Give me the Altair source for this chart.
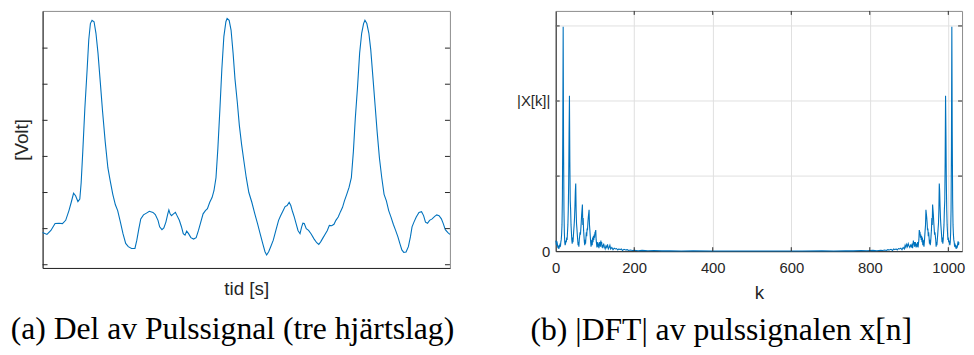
import altair as alt
import pandas as pd

# ---------------- (a) pulse signal, three heart beats ----------------
t_s = [0.000, 0.032, 0.061, 0.092, 0.121, 0.146, 0.170, 0.194, 0.211, 0.228, 0.243, 0.260, 0.274, 0.284,
       0.296, 0.311, 0.328, 0.340, 0.352, 0.364, 0.379, 0.393, 0.408, 0.425, 0.442, 0.461, 0.481, 0.498,
       0.517, 0.536, 0.553, 0.573, 0.592, 0.612, 0.631, 0.655, 0.680, 0.694, 0.709, 0.723, 0.743, 0.765,
       0.786, 0.813, 0.830, 0.850, 0.862, 0.879, 0.893, 0.908, 0.922, 0.930, 0.939, 0.949, 0.964, 0.978,
       0.990, 1.007, 1.022, 1.036, 1.049, 1.061, 1.075, 1.092, 1.112, 1.131, 1.148, 1.165, 1.182, 1.199,
       1.214, 1.231, 1.248, 1.262, 1.277, 1.291, 1.306, 1.320, 1.335, 1.350, 1.359, 1.374, 1.388, 1.403,
       1.417, 1.434, 1.449, 1.466, 1.483, 1.500, 1.519, 1.541, 1.563, 1.583, 1.602, 1.621, 1.638, 1.650,
       1.665, 1.680, 1.699, 1.718, 1.738, 1.752, 1.772, 1.786, 1.801, 1.816, 1.828, 1.840, 1.854, 1.867,
       1.881, 1.896, 1.908, 1.917, 1.927, 1.942, 1.959, 1.978, 2.000, 2.019, 2.034, 2.049, 2.066, 2.083,
       2.097, 2.112, 2.129, 2.146, 2.160, 2.177, 2.194, 2.209, 2.223, 2.240, 2.257, 2.274, 2.289, 2.303,
       2.320, 2.335, 2.350, 2.364, 2.374, 2.388, 2.403, 2.417, 2.432, 2.449, 2.464, 2.481, 2.498, 2.515,
       2.532, 2.549, 2.566, 2.583, 2.600, 2.617, 2.631, 2.646, 2.660, 2.677, 2.694, 2.709, 2.721, 2.735,
       2.752, 2.772, 2.791, 2.806, 2.820, 2.835, 2.850, 2.869, 2.888, 2.903, 2.920, 2.937, 2.951, 2.966,
       2.985, 3.000]
volt = [0.89, 0.84, 0.95, 1.14, 1.15, 1.14, 1.23, 1.50, 1.73, 1.98, 1.91, 1.75, 1.82, 2.27,
        3.14, 4.32, 5.41, 6.23, 6.68, 6.77, 6.73, 6.41, 5.86, 5.05, 4.23, 3.41, 2.68, 2.32,
        1.95, 1.66, 1.50, 1.18, 0.86, 0.59, 0.50, 0.45, 0.45, 0.68, 1.00, 1.27, 1.38, 1.43,
        1.48, 1.45, 1.39, 1.23, 1.05, 0.97, 1.02, 1.18, 1.41, 1.52, 1.41, 1.36, 1.41, 1.45,
        1.36, 1.23, 1.06, 0.86, 0.82, 0.93, 0.86, 0.75, 0.71, 0.75, 0.95, 1.18, 1.41, 1.50,
        1.55, 1.73, 1.86, 2.05, 2.41, 3.23, 4.32, 5.41, 6.32, 6.73, 6.82, 6.77, 6.50, 5.86,
        5.14, 4.50, 3.86, 3.32, 2.86, 2.41, 2.00, 1.73, 1.41, 1.14, 0.86, 0.59, 0.36, 0.27,
        0.36, 0.50, 0.68, 0.95, 1.23, 1.35, 1.50, 1.61, 1.64, 1.73, 1.64, 1.48, 1.32, 1.14,
        0.95, 0.86, 1.05, 1.15, 1.14, 1.00, 0.95, 0.85, 0.71, 0.61, 0.56, 0.64, 0.75, 0.86,
        0.95, 1.09, 1.08, 1.12, 1.23, 1.32, 1.47, 1.59, 1.77, 1.95, 2.14, 2.41, 3.14, 4.05,
        4.95, 5.86, 6.41, 6.68, 6.77, 6.68, 6.41, 5.95, 5.23, 4.41, 3.68, 2.95, 2.41, 1.95,
        1.77, 1.50, 1.32, 1.12, 0.95, 0.77, 0.59, 0.41, 0.34, 0.35, 0.50, 0.77, 1.05, 1.18,
        1.32, 1.45, 1.47, 1.36, 1.18, 1.15, 1.23, 1.27, 1.34, 1.38, 1.36, 1.27, 1.14, 0.97,
        0.89, 0.84]
volt_ticks = [0, 1, 2, 3, 4, 5, 6]

# ---------------- (b) |DFT| of the pulse signal ----------------
k_lo = [0, 1, 2, 3, 4, 5, 6, 7, 8, 9, 10, 11, 12, 13, 14, 15, 16, 17, 18, 19, 20, 21, 22, 23, 24, 25,
        26, 27, 28, 29, 30, 31, 32, 33, 34, 35, 36, 37, 38, 39, 40, 41, 42, 43, 44, 45, 46, 47, 48, 49,
        50, 51, 52, 53, 54, 55, 56, 57, 58, 59, 60, 61, 62, 63, 64, 65, 66, 67, 68, 69, 70, 71, 72, 73,
        74, 75, 76, 77, 78, 79, 80, 81, 82, 83, 84, 85, 86, 87, 88, 89, 90, 91, 92, 93, 94, 95, 96, 97,
        98, 99, 100, 101, 102, 103, 104, 105, 106, 107, 108, 109, 110, 111, 112, 113, 114, 115, 116,
        117, 118, 119, 120, 122, 124, 126, 128, 130, 132, 134, 136, 138, 140, 143, 146, 149, 152, 155,
        158, 161, 164, 167, 170, 174, 178, 182, 186, 190, 195, 200, 210, 220, 235, 250, 270, 290, 320,
        350, 400, 450, 514]
mag_lo = [0.14, 0.12, 0.08, 0.13, 0.10, 0.06, 0.04, 0.07, 0.03, 0.08, 0.05, 0.10, 0.06, 0.12, 0.15,
          0.22, 0.35, 0.70, 1.60, 2.99, 1.40, 0.55, 0.25, 0.12, 0.08, 0.10, 0.14, 0.12, 0.18, 0.15,
          0.25, 0.35, 0.55, 0.90, 1.55, 2.07, 1.20, 0.67, 0.55, 0.35, 0.25, 0.15, 0.10, 0.18, 0.12,
          0.20, 0.28, 0.35, 0.45, 0.60, 0.80, 0.90, 0.55, 0.37, 0.30, 0.22, 0.15, 0.08, 0.12, 0.06,
          0.15, 0.20, 0.25, 0.22, 0.30, 0.38, 0.48, 0.55, 0.62, 0.35, 0.44, 0.28, 0.20, 0.12, 0.08,
          0.15, 0.10, 0.18, 0.25, 0.20, 0.30, 0.28, 0.38, 0.45, 0.50, 0.55, 0.35, 0.28, 0.20, 0.12,
          0.06, 0.10, 0.15, 0.08, 0.18, 0.12, 0.20, 0.15, 0.22, 0.18, 0.25, 0.26, 0.28, 0.15, 0.10,
          0.05, 0.08, 0.12, 0.06, 0.10, 0.04, 0.08, 0.12, 0.10, 0.06, 0.14, 0.09, 0.12, 0.05, 0.08,
          0.04, 0.10, 0.06, 0.03, 0.07, 0.05, 0.09, 0.03, 0.05, 0.08, 0.03, 0.05, 0.02, 0.04, 0.03,
          0.035, 0.015, 0.03, 0.02, 0.03, 0.01, 0.025, 0.015, 0.02, 0.01, 0.015, 0.008, 0.012, 0.006,
          0.01, 0.005, 0.008, 0.004, 0.006, 0.003, 0.004, 0.002, 0.003, 0.002]
k_hi = [578, 628, 678, 708, 738, 758, 778, 793, 808, 818, 828, 833, 838, 842, 846, 850, 854, 858, 861,
        864, 867, 870, 873, 876, 879, 882, 885, 888, 890, 892, 894, 896, 898, 900, 902, 904, 906, 908,
        909, 910, 911, 912, 913, 914, 915, 916, 917, 918, 919, 920, 921, 922, 923, 924, 925, 926, 927,
        928, 929, 930, 931, 932, 933, 934, 935, 936, 937, 938, 939, 940, 941, 942, 943, 944, 945, 946,
        947, 948, 949, 950, 951, 952, 953, 954, 955, 956, 957, 958, 959, 960, 961, 962, 963, 964, 965,
        966, 967, 968, 969, 970, 971, 972, 973, 974, 975, 976, 977, 978, 979, 980, 981, 982, 983, 984,
        985, 986, 987, 988, 989, 990, 991, 992, 993, 994, 995, 996, 997, 998, 999, 1000, 1001, 1002,
        1003, 1004, 1005, 1006, 1007, 1008, 1009, 1010, 1011, 1012, 1013, 1014, 1015, 1016, 1017, 1018,
        1019, 1020, 1021, 1022, 1023, 1024, 1025, 1026, 1027]
mag_hi = [0.003, 0.002, 0.004, 0.003, 0.006, 0.004, 0.008, 0.005, 0.01, 0.006, 0.012, 0.008, 0.015,
          0.01, 0.02, 0.015, 0.025, 0.01, 0.03, 0.02, 0.03, 0.015, 0.035, 0.03, 0.04, 0.02, 0.05, 0.03,
          0.08, 0.05, 0.09, 0.06, 0.10, 0.07, 0.05, 0.08, 0.06, 0.10, 0.04, 0.08, 0.14, 0.09, 0.12, 0.06,
          0.10, 0.12, 0.08, 0.05, 0.10, 0.06, 0.08, 0.12, 0.05, 0.10, 0.15, 0.28, 0.26, 0.25, 0.18, 0.22,
          0.15, 0.20, 0.12, 0.18, 0.08, 0.15, 0.10, 0.06, 0.12, 0.20, 0.28, 0.35, 0.55, 0.50, 0.45, 0.38,
          0.28, 0.30, 0.20, 0.25, 0.18, 0.10, 0.15, 0.08, 0.12, 0.20, 0.28, 0.44, 0.35, 0.62, 0.55, 0.48,
          0.38, 0.30, 0.22, 0.25, 0.20, 0.15, 0.06, 0.12, 0.08, 0.15, 0.22, 0.30, 0.37, 0.55, 0.90, 0.80,
          0.60, 0.45, 0.35, 0.28, 0.20, 0.12, 0.18, 0.10, 0.15, 0.25, 0.35, 0.55, 0.67, 1.20, 2.07, 1.55,
          0.90, 0.55, 0.35, 0.25, 0.15, 0.18, 0.12, 0.14, 0.10, 0.08, 0.12, 0.25, 0.55, 1.40, 2.99, 1.60,
          0.70, 0.35, 0.22, 0.15, 0.12, 0.06, 0.10, 0.05, 0.08, 0.03, 0.07, 0.04, 0.06, 0.10, 0.13, 0.08,
          0.12]
k_ticks = [0, 200, 400, 600, 800, 1000]
mag_grid = [1, 2, 3]
mag_labels = [0, 2]

caption_a = "(a) Del av Pulssignal (tre hjärtslag)"
caption_b = "(b) |DFT| av pulssignalen x[n]"

BLUE = "#0072BD"
DARK = "#262626"
GRID = "#e0e0e0"

WL, HL = 412, 260
WR, HR = 411, 243

# ---------- left panel ----------
sig = pd.DataFrame({"t": t_s, "v": volt})
vt = pd.DataFrame({"v": volt_ticks})

xL = alt.X("t:Q", scale=alt.Scale(domain=[0, 3.0], nice=False, zero=False),
           axis=alt.Axis(title="tid [s]", labels=False, ticks=False, tickSize=0, grid=False,
                         titlePadding=12))
yL = alt.Y("v:Q", scale=alt.Scale(domain=[-0.09, 7.03], nice=False, zero=False),
           axis=alt.Axis(title="[Volt]", labels=False, ticks=False, tickSize=0, grid=False,
                         titlePadding=11))

sig_line = alt.Chart(sig).mark_line(color=BLUE, strokeWidth=1.1).encode(x=xL, y=yL)
tick_l = alt.Chart(vt).mark_rule(color=DARK, strokeWidth=1).encode(
    y=alt.Y("v:Q"), x=alt.value(0), x2=alt.value(5))
tick_r = alt.Chart(vt).mark_rule(color=DARK, strokeWidth=1).encode(
    y=alt.Y("v:Q"), x=alt.value(WL - 5), x2=alt.value(WL))

left = alt.layer(sig_line, tick_l, tick_r).properties(
    width=WL, height=HL,
    title=alt.TitleParams(text=caption_a, orient="bottom", anchor="middle",
                          font="Liberation Serif", fontSize=32, fontWeight="normal",
                          color="black", offset=16, dx=-14))

# ---------- right panel ----------
spec = pd.DataFrame({"k": k_lo + k_hi, "mag": mag_lo + mag_hi})
gy = pd.DataFrame({"mag": mag_grid})
kt = pd.DataFrame({"k": k_ticks[1:]})

xR = alt.X("k:Q", scale=alt.Scale(domain=[0, 1035], nice=False, zero=False),
           axis=alt.Axis(title="k", values=k_ticks, grid=True, gridColor=GRID, gridWidth=1,
                         ticks=False, tickSize=0, labelPadding=10, titlePadding=8,
                         labelFlush=False, format="d"))
yR = alt.Y("mag:Q", scale=alt.Scale(domain=[0, 3.2], nice=False, zero=False),
           axis=alt.Axis(title=None, values=mag_labels,
                         labelExpr="datum.value == 0 ? '0' : '|X[k]|'",
                         grid=False, ticks=False, tickSize=0, labelPadding=6))

spec_line = alt.Chart(spec).mark_line(color=BLUE, strokeWidth=1.1).encode(x=xR, y=yR)
grid_y = alt.Chart(gy).mark_rule(color=GRID, strokeWidth=1).encode(y=alt.Y("mag:Q"))
ytick_l = alt.Chart(gy).mark_rule(color=DARK).encode(
    y=alt.Y("mag:Q"), x=alt.value(0), x2=alt.value(4))
ytick_r = alt.Chart(gy).mark_rule(color=DARK).encode(
    y=alt.Y("mag:Q"), x=alt.value(WR - 4), x2=alt.value(WR))
xtick_b = alt.Chart(kt).mark_rule(color=DARK).encode(
    x=alt.X("k:Q"), y=alt.value(HR - 4), y2=alt.value(HR))
xtick_t = alt.Chart(kt).mark_rule(color=DARK).encode(
    x=alt.X("k:Q"), y=alt.value(0), y2=alt.value(4))

right = alt.layer(grid_y, spec_line, ytick_l, ytick_r, xtick_b, xtick_t).properties(
    width=WR, height=HR,
    title=alt.TitleParams(text=caption_b, orient="bottom", anchor="middle",
                          font="Liberation Serif", fontSize=32, fontWeight="normal",
                          color="black", offset=13, dx=-38))

chart = alt.hconcat(left, right, spacing=107, bounds="flush").properties(
    padding={"left": 2, "top": 0, "right": 0, "bottom": 0}
).configure_view(
    stroke="#8c8c8c", strokeWidth=1
).configure_axis(
    labelFont="Liberation Sans", titleFont="Liberation Sans",
    labelFontSize=15, titleFontSize=19, titleFontWeight="normal",
    labelColor=DARK, titleColor=DARK, domainColor=DARK, domainWidth=1
)

chart.save("out.html", embed_options={"renderer": "svg", "actions": False})
